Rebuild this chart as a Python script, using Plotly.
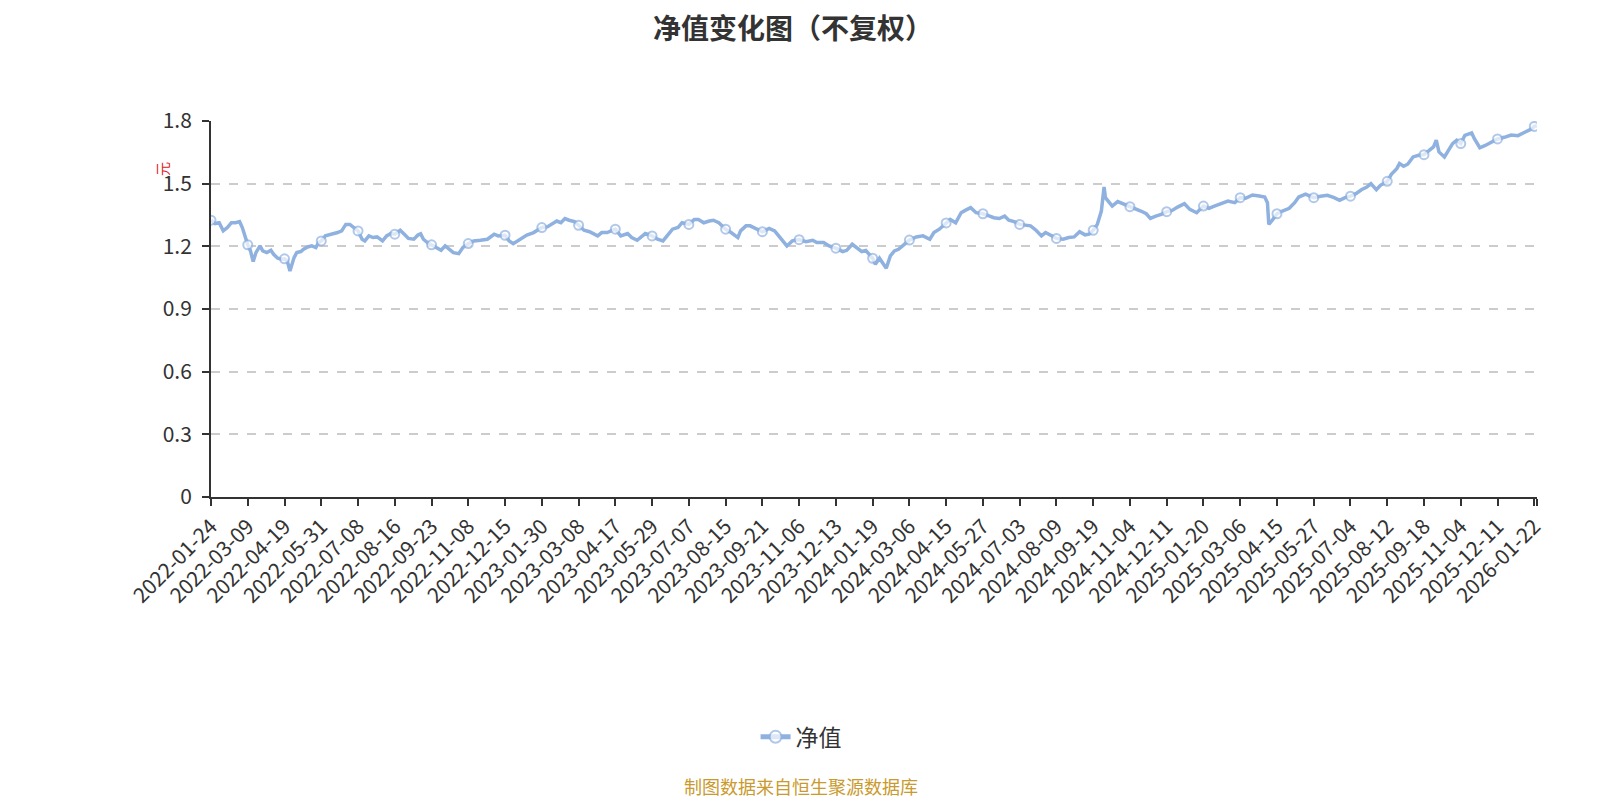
import plotly.graph_objects as go

# trading-day index of each sampled point (0 = 2022-01-24)
DAY_INDEX = [
    0, 3, 6, 9, 12, 15, 18, 21, 23, 25, 27, 29, 31, 33, 36, 38, 41, 44, 46, 49,
    52, 54, 56, 58, 61, 63, 66, 68, 71, 74, 77, 79, 81, 84, 87, 90, 93, 96, 99, 102,
    105, 108, 111, 113, 116, 119, 122, 126, 129, 132, 135, 139, 142, 145, 149, 152, 154, 156, 159, 162,
    165, 169, 172, 175, 178, 182, 185, 189, 193, 198, 203, 208, 211, 216, 219, 222, 225, 229, 232, 237,
    243, 247, 251, 254, 257, 260, 263, 267, 270, 274, 278, 281, 284, 287, 291, 297, 301, 306, 309, 313,
    317, 319, 324, 328, 332, 335, 339, 343, 346, 351, 355, 358, 362, 366, 369, 373, 378, 382, 387, 389,
    393, 396, 400, 405, 410, 414, 417, 421, 423, 427, 432, 437, 442, 445, 450, 454, 459, 464, 467, 471,
    475, 478, 481, 486, 488, 491, 494, 496, 499, 502, 505, 509, 513, 518, 523, 528, 531, 535, 540, 543,
    547, 551, 554, 558, 562, 567, 572, 575, 579, 583, 586, 590, 594, 599, 602, 606, 610, 613, 617, 621,
    626, 630, 634, 638, 642, 645, 648, 651, 654, 656, 657, 660, 662, 666, 670, 675, 679, 683, 687, 690,
    694, 698, 702, 706, 710, 715, 719, 724, 729, 733, 737, 742, 747, 752, 756, 760, 765, 770, 774, 776,
    777, 780, 783, 787, 792, 796, 799, 804, 810, 815, 820, 825, 829, 833, 837, 841, 845, 849, 852, 856,
    859, 864, 867, 871, 873, 876, 879, 883, 887, 891, 895, 898, 900, 902, 906, 909, 912, 915, 918, 921,
    926, 928, 932, 936, 940, 945, 950, 955, 960, 964, 967, 970, 972, 974,
]

# net value (元)
NAV = [
    1.325, 1.309, 1.313, 1.274, 1.290, 1.313, 1.313, 1.318, 1.290, 1.242, 1.207, 1.178, 1.127, 1.170, 1.202, 1.178, 1.170, 1.181, 1.162, 1.143,
    1.138, 1.140, 1.130, 1.082, 1.146, 1.170, 1.175, 1.186, 1.197, 1.202, 1.194, 1.218, 1.226, 1.250, 1.254, 1.261, 1.266, 1.274, 1.305, 1.305,
    1.290, 1.274, 1.234, 1.226, 1.250, 1.242, 1.245, 1.226, 1.250, 1.261, 1.258, 1.277, 1.258, 1.238, 1.234, 1.254, 1.260, 1.234, 1.218, 1.207,
    1.194, 1.181, 1.202, 1.186, 1.170, 1.165, 1.194, 1.213, 1.226, 1.229, 1.234, 1.258, 1.250, 1.253, 1.226, 1.213, 1.226, 1.242, 1.254, 1.266,
    1.290, 1.293, 1.309, 1.321, 1.313, 1.333, 1.325, 1.318, 1.301, 1.277, 1.270, 1.258, 1.250, 1.266, 1.266, 1.282, 1.250, 1.261, 1.242, 1.229,
    1.250, 1.261, 1.250, 1.234, 1.226, 1.250, 1.282, 1.290, 1.313, 1.305, 1.329, 1.329, 1.313, 1.321, 1.325, 1.313, 1.282, 1.266, 1.242, 1.274,
    1.298, 1.298, 1.286, 1.270, 1.286, 1.274, 1.250, 1.218, 1.202, 1.226, 1.232, 1.222, 1.229, 1.218, 1.218, 1.202, 1.191, 1.175, 1.181, 1.210,
    1.191, 1.175, 1.180, 1.143, 1.114, 1.143, 1.114, 1.095, 1.154, 1.178, 1.186, 1.207, 1.230, 1.245, 1.250, 1.234, 1.266, 1.282, 1.312, 1.329,
    1.313, 1.361, 1.372, 1.385, 1.361, 1.356, 1.345, 1.337, 1.333, 1.345, 1.325, 1.318, 1.305, 1.302, 1.298, 1.277, 1.250, 1.266, 1.250, 1.238,
    1.234, 1.242, 1.245, 1.270, 1.255, 1.258, 1.277, 1.305, 1.369, 1.484, 1.433, 1.409, 1.393, 1.414, 1.404, 1.390, 1.382, 1.369, 1.356, 1.334,
    1.345, 1.353, 1.366, 1.372, 1.388, 1.404, 1.377, 1.361, 1.393, 1.382, 1.393, 1.404, 1.417, 1.409, 1.433, 1.430, 1.446, 1.441, 1.436, 1.409,
    1.305, 1.329, 1.356, 1.369, 1.382, 1.409, 1.436, 1.450, 1.433, 1.440, 1.444, 1.433, 1.420, 1.433, 1.440, 1.452, 1.471, 1.484, 1.500, 1.471,
    1.492, 1.511, 1.545, 1.572, 1.596, 1.583, 1.593, 1.628, 1.636, 1.639, 1.660, 1.676, 1.708, 1.652, 1.628, 1.660, 1.692, 1.708, 1.692, 1.731,
    1.743, 1.715, 1.672, 1.683, 1.695, 1.714, 1.722, 1.733, 1.730, 1.743, 1.754, 1.762, 1.774, 1.778,
]

# x-axis labels, one every 27 trading days
TICK_DATES = [
    '2022-01-24', '2022-03-09', '2022-04-19', '2022-05-31', '2022-07-08', '2022-08-16',
    '2022-09-23', '2022-11-08', '2022-12-15', '2023-01-30', '2023-03-08', '2023-04-17',
    '2023-05-29', '2023-07-07', '2023-08-15', '2023-09-21', '2023-11-06', '2023-12-13',
    '2024-01-19', '2024-03-06', '2024-04-15', '2024-05-27', '2024-07-03', '2024-08-09',
    '2024-09-19', '2024-11-04', '2024-12-11', '2025-01-20', '2025-03-06', '2025-04-15',
    '2025-05-27', '2025-07-04', '2025-08-12', '2025-09-18', '2025-11-04', '2025-12-11',
    '2026-01-22',
]
TICK_STEP = 27
Y_TICKS = [0, 0.3, 0.6, 0.9, 1.2, 1.5, 1.8]
Y_TICK_TEXT = ['0', '0.3', '0.6', '0.9', '1.2', '1.5', '1.8']

FONT = 'Noto Sans CJK SC'
LINE_COLOR = '#8fb1e0'

# open circles only at the labelled days
marker_sizes = [9 if d % TICK_STEP == 0 else 0 for d in DAY_INDEX]
tick_vals = [i * TICK_STEP for i in range(len(TICK_DATES))] + [DAY_INDEX[-1]]
tick_text = TICK_DATES + ['']

fig = go.Figure()
fig.add_trace(go.Scatter(
    x=DAY_INDEX, y=NAV, name='净值', mode='lines+markers',
    line=dict(color=LINE_COLOR, width=3.5),
    marker=dict(size=marker_sizes, color='white', symbol='circle',
                line=dict(color=LINE_COLOR, width=2)),
))

# the page body adds an 8px offset, so the figure is 8px smaller and shifted back
PLOT_H = 376.3  # plot area height in px, used to place texts in paper units
fig.update_layout(
    width=1592, height=792,
    paper_bgcolor='white', plot_bgcolor='white',
    margin=dict(l=203, r=63, t=113, b=303),
    font=dict(family=FONT, color='#333'),
    showlegend=True,
    legend=dict(orientation='h', x=0.445, xanchor='center', y=-0.638, yanchor='middle',
                font=dict(size=23, color='#333'), itemsizing='constant'),
    xaxis=dict(range=[0, DAY_INDEX[-1]], tickmode='array', tickvals=tick_vals,
               ticktext=tick_text, tickangle=-45, tickfont=dict(size=21, color='#333'),
               showgrid=False, zeroline=False, showline=True, linecolor='#333',
               linewidth=2, ticks='outside', ticklen=7, tickcolor='#333', tickwidth=2),
    yaxis=dict(range=[0, 1.8], tickmode='array', tickvals=Y_TICKS, ticktext=Y_TICK_TEXT,
               tickfont=dict(size=21, color='#333'), showgrid=True, gridcolor='#cccccc',
               griddash='dash', gridwidth=1.5, zeroline=False, showline=True,
               linecolor='#333', linewidth=2, ticks='outside', ticklen=7,
               tickcolor='#333', tickwidth=2, ticklabelstandoff=6),
    annotations=[
        dict(text='<b>净值变化图（不复权）</b>', xref='paper', yref='paper',
             x=(785 - 203) / 1326, y=(489 - 19) / PLOT_H, xanchor='center',
             yanchor='middle', showarrow=False, font=dict(size=28, color='#333')),
        dict(text='元', xref='paper', yref='paper', x=-0.046, y=0.896,
             showarrow=False, textangle=-90, font=dict(size=14, color='#e02020')),
        dict(text='制图数据来自恒生聚源数据库', xref='paper', yref='paper', x=0.445,
             y=(489 - 778) / PLOT_H, xanchor='center', yanchor='middle', showarrow=False,
             font=dict(size=18, color='#c99a2e')),
    ],
)

fig.write_html('out.html')
